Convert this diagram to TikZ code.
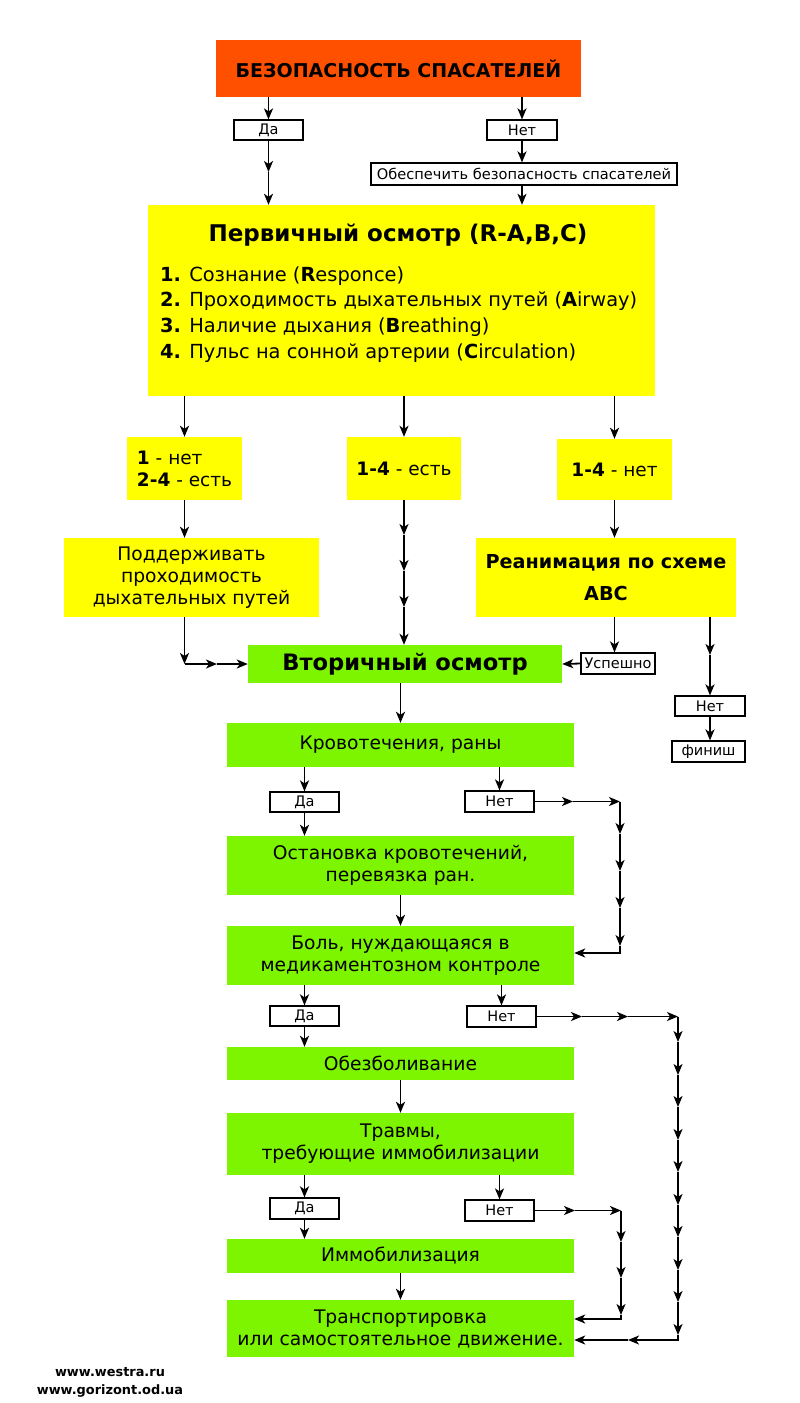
\documentclass[tikz,border=0pt]{standalone}
\usepackage{fontspec}
\setmainfont{DejaVu Sans}
\usepackage{xcolor}
\usetikzlibrary{positioning,calc,arrows.meta}
\definecolor{Alarm}{HTML}{FF5000}
\definecolor{Primary}{HTML}{FFFF00}
\definecolor{Second}{HTML}{7DF500}

\tikzset{
	block/.style={inner sep=0pt, align=center, text=black},
	redbox/.style={block, fill=Alarm},
	yellowbox/.style={block, fill=Primary},
	greenbox/.style={block, fill=Second, minimum width=347pt,
		font=\fontsize{18.7}{22}\selectfont},
	answer/.style={block, draw=black, line width=1.2pt, fill=white,
		font=\fontsize{14.5}{16}\selectfont},
	arr/.style={-{Stealth[length=11pt,width=9pt,inset=3pt]}, line width=1.8pt}
}

\begin{document}
\begin{tikzpicture}[x=1pt,y=-1pt]
			
			\useasboundingbox (0,0) rectangle (800,1403);
			
			% ---------------------------------------------------------
			% SAFETY
			% ---------------------------------------------------------
			
			\node[
			redbox,
			minimum width=365pt,
			minimum height=57pt,
			font=\fontsize{19}{22}\selectfont\bfseries
			]
			(safety) at (398.5,68.5)
			{БЕЗОПАСНОСТЬ СПАСАТЕЛЕЙ};
			
			\node[answer, minimum width=69pt, minimum height=20pt]
			(yes0) at (268.5,130) {Да};
			
			\node[answer, minimum width=70pt, minimum height=20pt]
			(no0) at (522,130) {Нет};
			
			\node[
			answer,
			minimum width=306pt,
			minimum height=22pt,
			font=\fontsize{14.6}{16}\selectfont
			]
			(secure) at (524,174)
			{Обеспечить безопасность спасателей};
			
			% ---------------------------------------------------------
			% PRIMARY SURVEY
			% ---------------------------------------------------------
			
			\node[yellowbox, minimum width=507pt, minimum height=191pt]
			(primary) at (401.5,300.5) {};
			
			\node[inner sep=0pt, font=\fontsize{23}{26}\selectfont\bfseries]
			(primtitle) at (398,235)
			{Первичный осмотр (R-A,B,C)};
			
			\node[
			anchor=west,
			align=left,
			inner sep=0pt,
			font=\fontsize{19.4}{25.7}\selectfont
			]
			(primlist) at (160,314.5)
			{\textbf{1.} Сознание (\textbf{R}esponce)\\
				\textbf{2.} Проходимость дыхательных путей (\textbf{A}irway)\\
				\textbf{3.} Наличие дыхания (\textbf{B}reathing)\\
				\textbf{4.} Пульс на сонной артерии (\textbf{C}irculation)};
			
			% ---------------------------------------------------------
			% CASES
			% ---------------------------------------------------------
			
			\node[
			yellowbox,
			minimum width=115pt,
			minimum height=63pt,
			align=left,
			font=\fontsize{18.5}{22}\selectfont
			]
			(caseA) at (184.5,468.5)
			{\textbf{1} - нет\\\textbf{2-4} - есть};
			
			\node[
			yellowbox,
			minimum width=114pt,
			minimum height=63pt,
			font=\fontsize{18.5}{22}\selectfont
			]
			(caseB) at (404,468.5)
			{\textbf{1-4} - есть};
			
			\node[
			yellowbox,
			minimum width=115pt,
			minimum height=61pt,
			font=\fontsize{18.5}{22}\selectfont
			]
			(caseC) at (614.5,469.5)
			{\textbf{1-4} - нет};
			
			\node[
			yellowbox,
			minimum width=255pt,
			minimum height=79pt,
			font=\fontsize{18.7}{21.7}\selectfont
			]
			(support) at (191.5,577.5)
			{Поддерживать\\проходимость\\дыхательных путей};
			
			\node[
			yellowbox,
			minimum width=260pt,
			minimum height=79pt,
			font=\fontsize{19.2}{31.7}\selectfont\bfseries
			]
			(reanim) at (606,577.5)
			{Реанимация по схеме\\ABC};
			
			% ---------------------------------------------------------
			% SECONDARY SURVEY
			% ---------------------------------------------------------
			
			\node[
			block,
			fill=Second,
			minimum width=314pt,
			minimum height=38pt,
			font=\fontsize{22.6}{26}\selectfont\bfseries
			]
			(second) at (405,664)
			{Вторичный осмотр};
			
			\node[answer, minimum width=74pt, minimum height=21pt]
			(success) at (618,663.5) {Успешно};
			
			\node[answer, minimum width=70pt, minimum height=20pt]
			(noF) at (710,706) {Нет};
			
			\node[answer, minimum width=73pt, minimum height=21pt]
			(finish) at (708.5,751.5) {финиш};
			
			\node[greenbox, minimum height=44pt]
			(bleeding) at (400.5,745) {Кровотечения, раны};
			
			\node[answer, minimum width=69pt, minimum height=20pt]
			(yes1) at (304.5,802) {Да};
			
			\node[answer, minimum width=69pt, minimum height=21pt]
			(no1) at (499.5,801.5) {Нет};
			
			\node[greenbox, minimum height=59pt]
			(stopbleed) at (400.5,865.5)
			{Остановка кровотечений,\\перевязка ран.};
			
			\node[greenbox, minimum height=59pt]
			(pain) at (400.5,955.5)
			{Боль, нуждающаяся в\\медикаментозном контроле};
			
			\node[answer, minimum width=69pt, minimum height=20pt]
			(yes2) at (304.5,1016) {Да};
			
			\node[answer, minimum width=69pt, minimum height=21pt]
			(no2) at (501.5,1016.5) {Нет};
			
			\node[greenbox, minimum height=33pt]
			(analgesia) at (400.5,1063.5) {Обезболивание};
			
			\node[greenbox, minimum height=62pt]
			(trauma) at (400.5,1144)
			{Травмы,\\требующие иммобилизации};
			
			\node[answer, minimum width=69pt, minimum height=21pt]
			(yes3) at (304.5,1208.5) {Да};
			
			\node[answer, minimum width=69pt, minimum height=21pt]
			(no3) at (499.5,1210.5) {Нет};
			
			\node[greenbox, minimum height=34pt]
			(immob) at (400.5,1256) {Иммобилизация};
			
			\node[greenbox, minimum height=57pt]
			(transport) at (400.5,1328.5)
			{Транспортировка\\или самостоятельное движение.};
			
			\node[align=center, font=\fontsize{12.9}{18}\selectfont\bfseries]
			(sites) at (110,1382)
			{www.westra.ru\\www.gorizont.od.ua};
			
			% ---------------------------------------------------------
			% ARROWS
			% ---------------------------------------------------------
			
			\coordinate (yesmid) at (268.5,172);
			\draw[arr] (yes0.north |- safety.south) -- (yes0.north);
			\draw[arr] (yes0.south) -- (yesmid);
			\draw[arr] (yesmid) -- (yesmid |- primary.north);
			
			\draw[arr] (no0.north |- safety.south) -- (no0.north);
			\draw[arr] (no0.south) -- (no0.south |- secure.north);
			\draw[arr] (no0.south |- secure.south) -- (no0.south |- primary.north);
			
			\draw[arr] (caseA.north |- primary.south) -- (caseA.north);
			\draw[arr] (caseB.north |- primary.south) -- (caseB.north);
			\draw[arr] (caseC.north |- primary.south) -- (caseC.north);
			
			\draw[arr] (caseA.south) -- (caseA.south |- support.north);
			\draw[arr] (caseC.south) -- (caseC.south |- reanim.north);
			
			\foreach \y [count=\i] in {535,571,607}
			\coordinate (mid\i) at (404,\y);
			\draw[arr] (caseB.south) -- (mid1);
			\draw[arr] (mid1) -- (mid2);
			\draw[arr] (mid2) -- (mid3);
			\draw[arr] (mid3) -- (mid3 |- second.north);
			
			\coordinate (supcorner) at (184.5,664);
			\coordinate (supmid) at (217,664);
			\draw[arr] (caseA.south |- support.south) -- (supcorner);
			\draw[arr] (supcorner) -- (supmid);
			\draw[arr] (supmid) -- (second.west);
			
			\draw[arr] (caseC.south |- reanim.south) -- (caseC.south |- success.north);
			\draw[arr] (success.west) -- (second.east);
			
			\coordinate (failmid) at (710,655);
			\draw[arr] (failmid |- reanim.south) -- (failmid);
			\draw[arr] (failmid) -- (noF.north);
			\draw[arr] (noF.south) -- (noF.south |- finish.north);
			
			\draw[arr] (bleeding.north |- second.south) -- (bleeding.north);
			\draw[arr] (yes1.north |- bleeding.south) -- (yes1.north);
			\draw[arr] (yes1.south) -- (yes1.south |- stopbleed.north);
			\draw[arr] (no1.north |- bleeding.south) -- (no1.north);
			\draw[arr] (pain.north |- stopbleed.south) -- (pain.north);
			
			% bypass: no bleeding
			\coordinate (bl0) at (573,801.5);
			\foreach \y [count=\i] in {801.5,834,871,908,946,953}
			\coordinate (bl\i) at (620,\y);
			\draw[arr] (no1.east) -- (bl0);
			\draw[arr] (bl0) -- (bl1);
			\foreach \i [evaluate=\i as \j using int(\i+1)] in {1,...,4}
			\draw[arr] (bl\i) -- (bl\j);
			\draw[arr] (bl5) -- (bl6) -- (bl6 -| pain.east);
			
			\draw[arr] (yes2.north |- pain.south) -- (yes2.north);
			\draw[arr] (yes2.south) -- (yes2.south |- analgesia.north);
			\draw[arr] (no2.north |- pain.south) -- (no2.north);
			\draw[arr] (trauma.north |- analgesia.south) -- (trauma.north);
			
			% bypass: no pain
			\coordinate (pa0) at (582,1016.5);
			\coordinate (pa1) at (628,1016.5);
			\draw[arr] (no2.east) -- (pa0);
			\draw[arr] (pa0) -- (pa1);
			\foreach \y [count=\i] in {1016.5,1042,1075,1107,1140,1172,1205,1237,1270,1302,1335,1340}
			\coordinate (pl\i) at (678,\y);
			\draw[arr] (pa1) -- (pl1);
			\foreach \i [evaluate=\i as \j using int(\i+1)] in {1,...,10}
			\draw[arr] (pl\i) -- (pl\j);
			\coordinate (plback) at (628,1340);
			\draw[arr] (pl11) -- (pl12) -- (plback);
			\draw[arr] (plback) -- (plback -| transport.east);
			
			\draw[arr] (yes3.north |- trauma.south) -- (yes3.north);
			\draw[arr] (yes3.south) -- (yes3.south |- immob.north);
			\draw[arr] (no3.north |- trauma.south) -- (no3.north);
			\draw[arr] (transport.north |- immob.south) -- (transport.north);
			
			% bypass: no trauma
			\coordinate (tr0) at (575,1210.5);
			\foreach \y [count=\i] in {1210.5,1242,1278,1315,1319}
			\coordinate (tr\i) at (621,\y);
			\draw[arr] (no3.east) -- (tr0);
			\draw[arr] (tr0) -- (tr1);
			\foreach \i [evaluate=\i as \j using int(\i+1)] in {1,...,3}
			\draw[arr] (tr\i) -- (tr\j);
			\draw[arr] (tr4) -- (tr5) -- (tr5 -| transport.east);
			
		\end{tikzpicture}
\end{document}
